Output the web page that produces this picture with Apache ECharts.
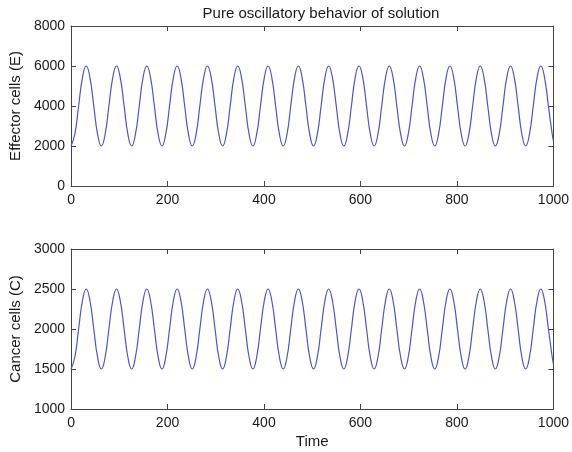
<!DOCTYPE html>
<html><head><meta charset="utf-8">
<script src="https://cdn.jsdelivr.net/npm/echarts@6/dist/echarts.min.js"></script>
<style>html,body{margin:0;padding:0;background:#fff}#c{width:572px;height:452px}</style>
</head><body><div id="c"></div>
<script>
const titleText = 'Pure oscillatory behavior of solution';
const yLabelTop = 'Effector cells (E)';
const yLabelBottom = 'Cancer cells (C)';
const xLabel = 'Time';
const xTicks = [0, 200, 400, 600, 800, 1000];
const yTicksTop = [0, 2000, 4000, 6000, 8000];
const yTicksBottom = [1000, 1500, 2000, 2500, 3000];

const time = [
  0, 7.9, 15.7, 23.6, 31.4, 39.3, 47.1, 55.0,
  62.8, 70.7, 78.5, 86.4, 94.2, 102.1, 110.0, 117.8,
  125.7, 133.5, 141.4, 149.2, 157.1, 164.9, 172.8, 180.6,
  188.5, 196.3, 204.2, 212.1, 219.9, 227.8, 235.6, 243.5,
  251.3, 259.2, 267.0, 274.9, 282.7, 290.6, 298.5, 306.3,
  314.2, 322.0, 329.9, 337.7, 345.6, 353.4, 361.3, 369.1,
  377.0, 384.8, 392.7, 400.6, 408.4, 416.3, 424.1, 432.0,
  439.8, 447.7, 455.5, 463.4, 471.2, 479.1, 486.9, 494.8,
  502.7, 510.5, 518.4, 526.2, 534.1, 541.9, 549.8, 557.6,
  565.5, 573.3, 581.2, 589.0, 596.9, 604.8, 612.6, 620.5,
  628.3, 636.2, 644.0, 651.9, 659.7, 667.6, 675.4, 683.3,
  691.2, 699.0, 706.9, 714.7, 722.6, 730.4, 738.3, 746.1,
  754.0, 761.8, 769.7, 777.5, 785.4, 793.3, 801.1, 809.0,
  816.8, 824.7, 832.5, 840.4, 848.2, 856.1, 863.9, 871.8,
  879.6, 887.5, 895.4, 903.2, 911.1, 918.9, 926.8, 934.6,
  942.5, 950.3, 958.2, 966.0, 973.9, 981.7, 989.6, 997.5,
  1000
];

const effector = [
  2000, 2590, 4000, 5410, 6000, 5410, 4000, 2590,
  2000, 2590, 4000, 5410, 6000, 5410, 4000, 2590,
  2000, 2590, 4000, 5410, 6000, 5410, 4000, 2590,
  2000, 2590, 4000, 5410, 6000, 5410, 4000, 2590,
  2000, 2590, 4000, 5410, 6000, 5410, 4000, 2590,
  2000, 2590, 4000, 5410, 6000, 5410, 4000, 2590,
  2000, 2590, 4000, 5410, 6000, 5410, 4000, 2590,
  2000, 2590, 4000, 5410, 6000, 5410, 4000, 2590,
  2000, 2590, 4000, 5410, 6000, 5410, 4000, 2590,
  2000, 2590, 4000, 5410, 6000, 5410, 4000, 2590,
  2000, 2590, 4000, 5410, 6000, 5410, 4000, 2590,
  2000, 2590, 4000, 5410, 6000, 5410, 4000, 2590,
  2000, 2590, 4000, 5410, 6000, 5410, 4000, 2590,
  2000, 2590, 4000, 5410, 6000, 5410, 4000, 2590,
  2000, 2590, 4000, 5410, 6000, 5410, 4000, 2590,
  2000, 2590, 4000, 5410, 6000, 5410, 4000, 2590,
  2250
];

const cancer = [
  1500, 1650, 2000, 2350, 2500, 2350, 2000, 1650,
  1500, 1650, 2000, 2350, 2500, 2350, 2000, 1650,
  1500, 1650, 2000, 2350, 2500, 2350, 2000, 1650,
  1500, 1650, 2000, 2350, 2500, 2350, 2000, 1650,
  1500, 1650, 2000, 2350, 2500, 2350, 2000, 1650,
  1500, 1650, 2000, 2350, 2500, 2350, 2000, 1650,
  1500, 1650, 2000, 2350, 2500, 2350, 2000, 1650,
  1500, 1650, 2000, 2350, 2500, 2350, 2000, 1650,
  1500, 1650, 2000, 2350, 2500, 2350, 2000, 1650,
  1500, 1650, 2000, 2350, 2500, 2350, 2000, 1650,
  1500, 1650, 2000, 2350, 2500, 2350, 2000, 1650,
  1500, 1650, 2000, 2350, 2500, 2350, 2000, 1650,
  1500, 1650, 2000, 2350, 2500, 2350, 2000, 1650,
  1500, 1650, 2000, 2350, 2500, 2350, 2000, 1650,
  1500, 1650, 2000, 2350, 2500, 2350, 2000, 1650,
  1500, 1650, 2000, 2350, 2500, 2350, 2000, 1650,
  1560
];

const FONT = 'Liberation Sans, Arial, sans-serif';
const AX = '#444';
const TXT = '#1a1a1a';
const LINE = '#5050d8';
const plain = v => String(v);

function xAx(gi, pos, show, name) {
  return {
    type: 'value', gridIndex: gi, position: pos,
    min: xTicks[0], max: xTicks[xTicks.length - 1], interval: xTicks[1] - xTicks[0],
    name: name || '', nameLocation: 'middle', nameGap: 25,
    nameTextStyle: { fontFamily: FONT, fontSize: 15, color: TXT },
    axisLine: { show: true, onZero: false, lineStyle: { color: AX, width: 1 } },
    axisTick: { show: true, inside: true, length: 5, lineStyle: { color: AX } },
    axisLabel: { show: show, margin: 7, fontFamily: FONT, fontSize: 14, color: TXT, formatter: plain },
    splitLine: { show: false }
  };
}
function yAx(gi, pos, ticks, show, name) {
  return {
    type: 'value', gridIndex: gi, position: pos,
    min: ticks[0], max: ticks[ticks.length - 1], interval: ticks[1] - ticks[0],
    name: name || '', nameLocation: 'middle', nameGap: 41, nameRotate: 90,
    nameTextStyle: { fontFamily: FONT, fontSize: 15, color: TXT },
    axisLine: { show: true, onZero: false, lineStyle: { color: AX, width: 1 } },
    axisTick: { show: true, inside: true, length: 5, lineStyle: { color: AX } },
    axisLabel: { show: show, margin: 6, fontFamily: FONT, fontSize: 14, color: TXT, formatter: plain },
    splitLine: { show: false }
  };
}

const chart = echarts.init(document.getElementById('c'), null, { renderer: 'canvas' });
chart.setOption({
  backgroundColor: '#fff',
  animation: false,
  title: {
    text: titleText, left: 316, top: 1, textAlign: 'center',
    textStyle: { fontFamily: FONT, fontSize: 15, fontWeight: 'normal', color: TXT }
  },
  grid: [
    { left: 70, right: 17, top: 26, height: 160 },
    { left: 70, right: 17, top: 249, height: 160 }
  ],
  xAxis: [
    xAx(0, 'bottom', true),
    xAx(0, 'top', false),
    xAx(1, 'bottom', true, xLabel),
    xAx(1, 'top', false)
  ],
  yAxis: [
    yAx(0, 'left', yTicksTop, true, yLabelTop),
    yAx(0, 'right', yTicksTop, false),
    yAx(1, 'left', yTicksBottom, true, yLabelBottom),
    yAx(1, 'right', yTicksBottom, false)
  ],
  series: [
    {
      type: 'line', xAxisIndex: 0, yAxisIndex: 0, showSymbol: false, smooth: true,
      lineStyle: { color: LINE, width: 1.2 },
      data: time.map((t, i) => [t, effector[i]])
    },
    {
      type: 'line', xAxisIndex: 2, yAxisIndex: 2, showSymbol: false, smooth: true,
      lineStyle: { color: LINE, width: 1.2 },
      data: time.map((t, i) => [t, cancer[i]])
    }
  ]
});
</script>
</body></html>
